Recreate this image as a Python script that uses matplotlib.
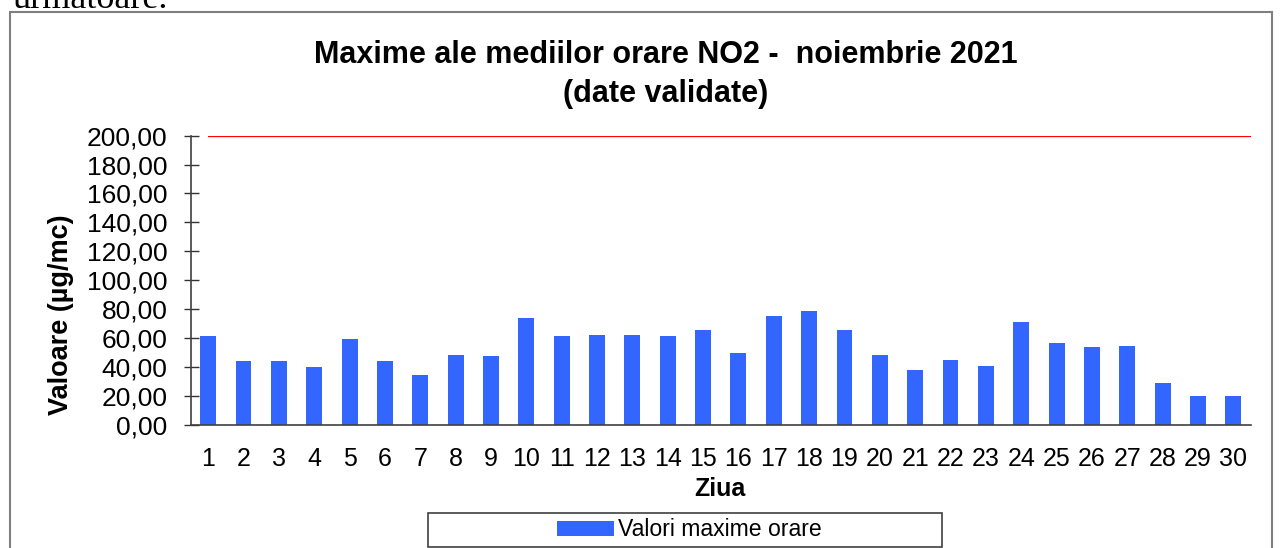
import matplotlib
matplotlib.use("Agg")
import matplotlib.pyplot as plt
from matplotlib.patches import Rectangle

plt.rcParams['font.family'] = ['Liberation Sans', 'DejaVu Sans']

days = list(range(1, 31))
values = [61.3, 44.0, 44.0, 39.8, 59.0, 43.7, 34.1, 48.1, 47.6, 73.5,
          61.3, 61.8, 62.2, 61.3, 65.2, 49.5, 75.1, 78.8, 65.2, 47.9,
          37.9, 44.4, 40.5, 70.8, 56.4, 53.7, 54.6, 28.5, 19.5, 19.7]
limit_value = 200
yticks = [0, 20, 40, 60, 80, 100, 120, 140, 160, 180, 200]
ytick_labels = ["0,00", "20,00", "40,00", "60,00", "80,00", "100,00",
                "120,00", "140,00", "160,00", "180,00", "200,00"]

W, H = 1282, 548
fig = plt.figure(figsize=(W / 100, H / 100), dpi=100)

def fx(px):
    return px / W

def fy(py):
    return 1 - py / H

# outer chart border
fig.patches.append(Rectangle((fx(10), fy(600)), fx(1272) - fx(10), fy(12) - fy(600),
                             transform=fig.transFigure, fill=False,
                             edgecolor='#7f7f7f', linewidth=1.5))

# cut-off text at top
fig.text(fx(12), fy(8), "următoare.", family='Liberation Serif', fontsize=26,
         ha='left', va='baseline', color='black')

ax0, ax1 = 190.5, 1251
ay0, ay1 = 424.5, 135.7
ax = fig.add_axes([fx(ax0), fy(ay0), fx(ax1) - fx(ax0), fy(ay1) - fy(ay0)])
ax.bar(days, values, width=0.45, color='#3366FF', label='Valori maxime orare', zorder=2)
ax.hlines(limit_value, xmin=days[0], xmax=days[-1] + 0.5, color='#FF0000', linewidth=1.6, zorder=3)

ax.set_xlim(0.5, 30.5)
ax.set_ylim(0, 200)
ax.set_yticks(yticks)
ax.set_yticklabels(ytick_labels)
ax.set_xticks(days)
ax.set_xticklabels([str(d) for d in days])
ax.tick_params(axis='y', direction='inout', length=10.8, width=1, color='#333333',
               labelsize=19, pad=11)
ax.tick_params(axis='x', length=0, labelsize=18, pad=16)
for s in ['top', 'right']:
    ax.spines[s].set_visible(False)
for s in ['left', 'bottom']:
    ax.spines[s].set_color('#404040')
    ax.spines[s].set_linewidth(1.2)

axw = ax1 - ax0
axh = ay0 - ay1
ax.set_xlabel("Ziua", fontsize=18, fontweight='bold')
ax.xaxis.set_label_coords((720 - ax0) / axw, (ay0 - 477) / axh)
ax.set_ylabel("Valoare (µg/mc)", fontsize=19.5, fontweight='bold')
ax.yaxis.set_label_coords((74 - ax0) / axw, (ay0 - 315) / axh)

fig.text(fx(666), fy(55), "Maxime ale mediilor orare NO2 -  noiembrie 2021",
         ha='center', va='center', fontsize=22, fontweight='bold')
fig.text(fx(666), fy(94), "(date validate)",
         ha='center', va='center', fontsize=22, fontweight='bold')

# legend frame
fig.patches.append(Rectangle((fx(428), fy(547)), fx(942) - fx(428), fy(513) - fy(547),
                             transform=fig.transFigure, fill=False,
                             edgecolor='#404040', linewidth=1.2))
ax.legend(loc='center', bbox_to_anchor=(fx(689), fy(530)), bbox_transform=fig.transFigure,
          frameon=False, fontsize=16.6, handlelength=2.5, handleheight=0.6,
          handletextpad=0.15, borderpad=0)

fig.savefig("out.png", dpi=100)
